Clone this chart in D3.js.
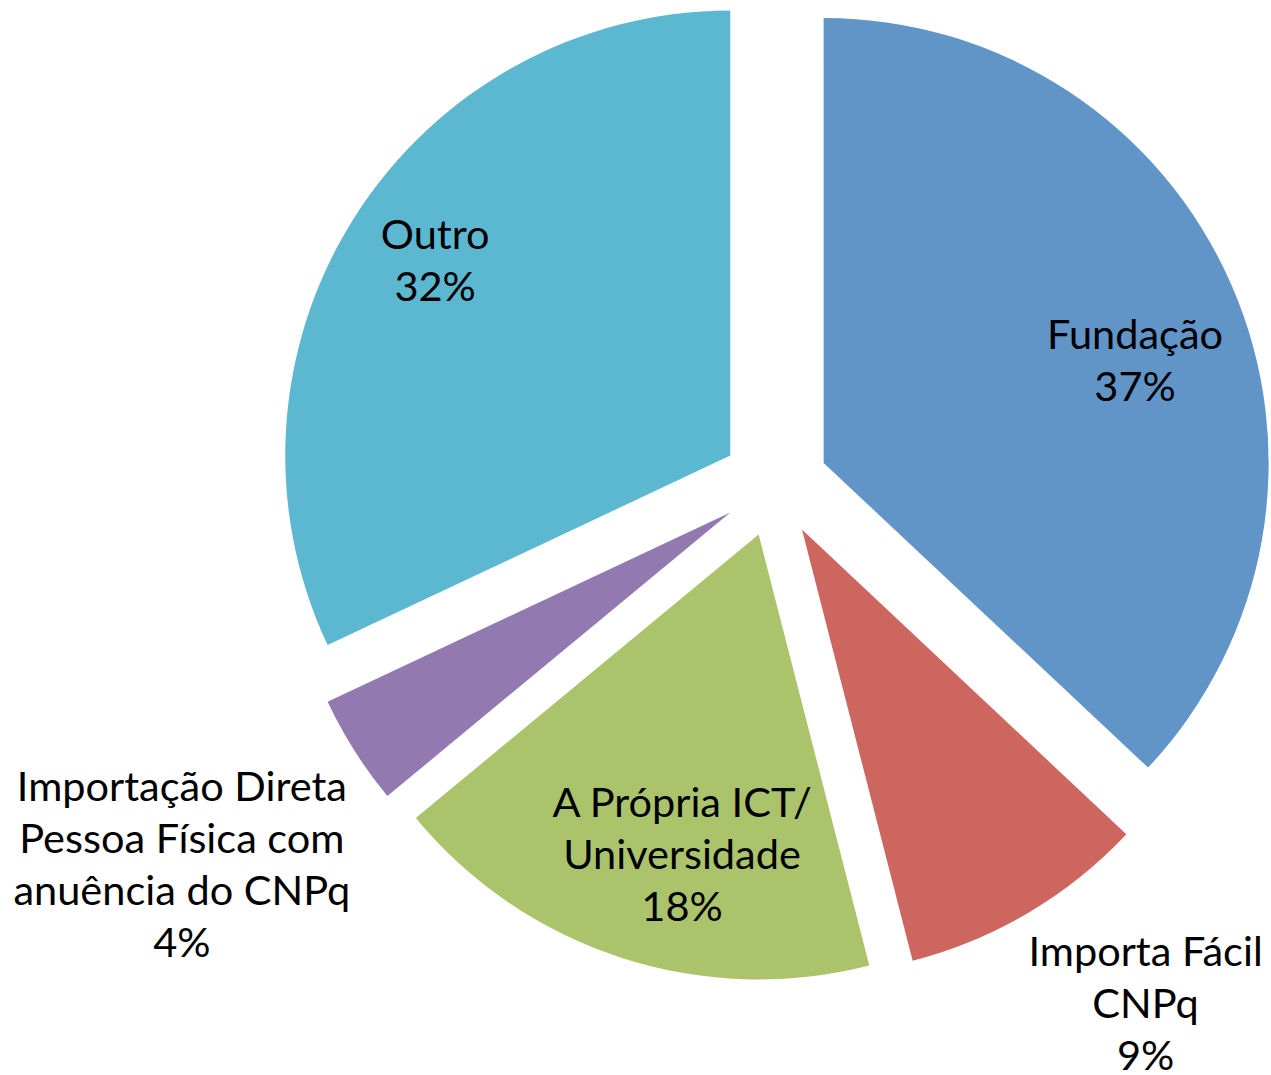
<!DOCTYPE html>
<html><head><meta charset="utf-8">
<script src="https://cdn.jsdelivr.net/npm/d3@7"></script>
<style>html,body{margin:0;padding:0;background:#fff;}svg{display:block;}</style>
</head><body>
<svg id="chart" width="1271" height="1075"></svg>
<script>
const categories = ["Fundação", "Importa Fácil CNPq", "A Própria ICT/ Universidade", "Importação Direta Pessoa Física com anuência do CNPq", "Outro"];
const values = [37, 9, 18, 4, 32];
const labelLines = [
  ["Fundação", "37%"],
  ["Importa Fácil", "CNPq", "9%"],
  ["A Própria ICT/", "Universidade", "18%"],
  ["Importação Direta", "Pessoa Física com", "anuência do CNPq", "4%"],
  ["Outro", "32%"]
];
const colors = ["#6195C8", "#CD665F", "#ABC46C", "#927AB0", "#5CB7D0"];

// layout (not data)
const cx = 775, cy = 484, R = 445, explode = 53;
const labelPolar = [ [327.6, 71.9], [586, 144.1], [330.6, 193.4], [652.4, 237.2], [353.1, 303.3] ]; // radius px, angle deg from exploded slice origin
const fontSize = 41.5, lineH = 52, capH = 27;

const svg = d3.select("#chart");
const pie = d3.pie().sort(null).value(d => d)(values);
const arc = d3.arc().innerRadius(0).outerRadius(R);

const g = svg.append("g").attr("transform", `translate(${cx},${cy})`);
const slices = g.selectAll("g.slice").data(pie).join("g").attr("class", "slice")
  .attr("transform", d => {
    const m = (d.startAngle + d.endAngle) / 2;
    return `translate(${Math.sin(m) * explode},${-Math.cos(m) * explode})`;
  });
slices.append("path").attr("d", arc).attr("fill", (d, i) => colors[i]);

slices.each(function(d, i) {
  const [r, a] = labelPolar[i];
  const ang = a * Math.PI / 180;
  const lx = Math.sin(ang) * r, ly = -Math.cos(ang) * r;
  const lines = labelLines[i];
  const t = d3.select(this).append("text")
    .attr("text-anchor", "middle")
    .attr("font-family", "Lato, 'Open Sans', sans-serif")
    .attr("font-size", fontSize)
    .attr("fill", "#000");
  lines.forEach((s, k) => {
    t.append("tspan").attr("x", lx)
      .attr("y", ly + (k - (lines.length - 1) / 2) * lineH + capH / 2)
      .text(s);
  });
});
</script>
</body></html>
